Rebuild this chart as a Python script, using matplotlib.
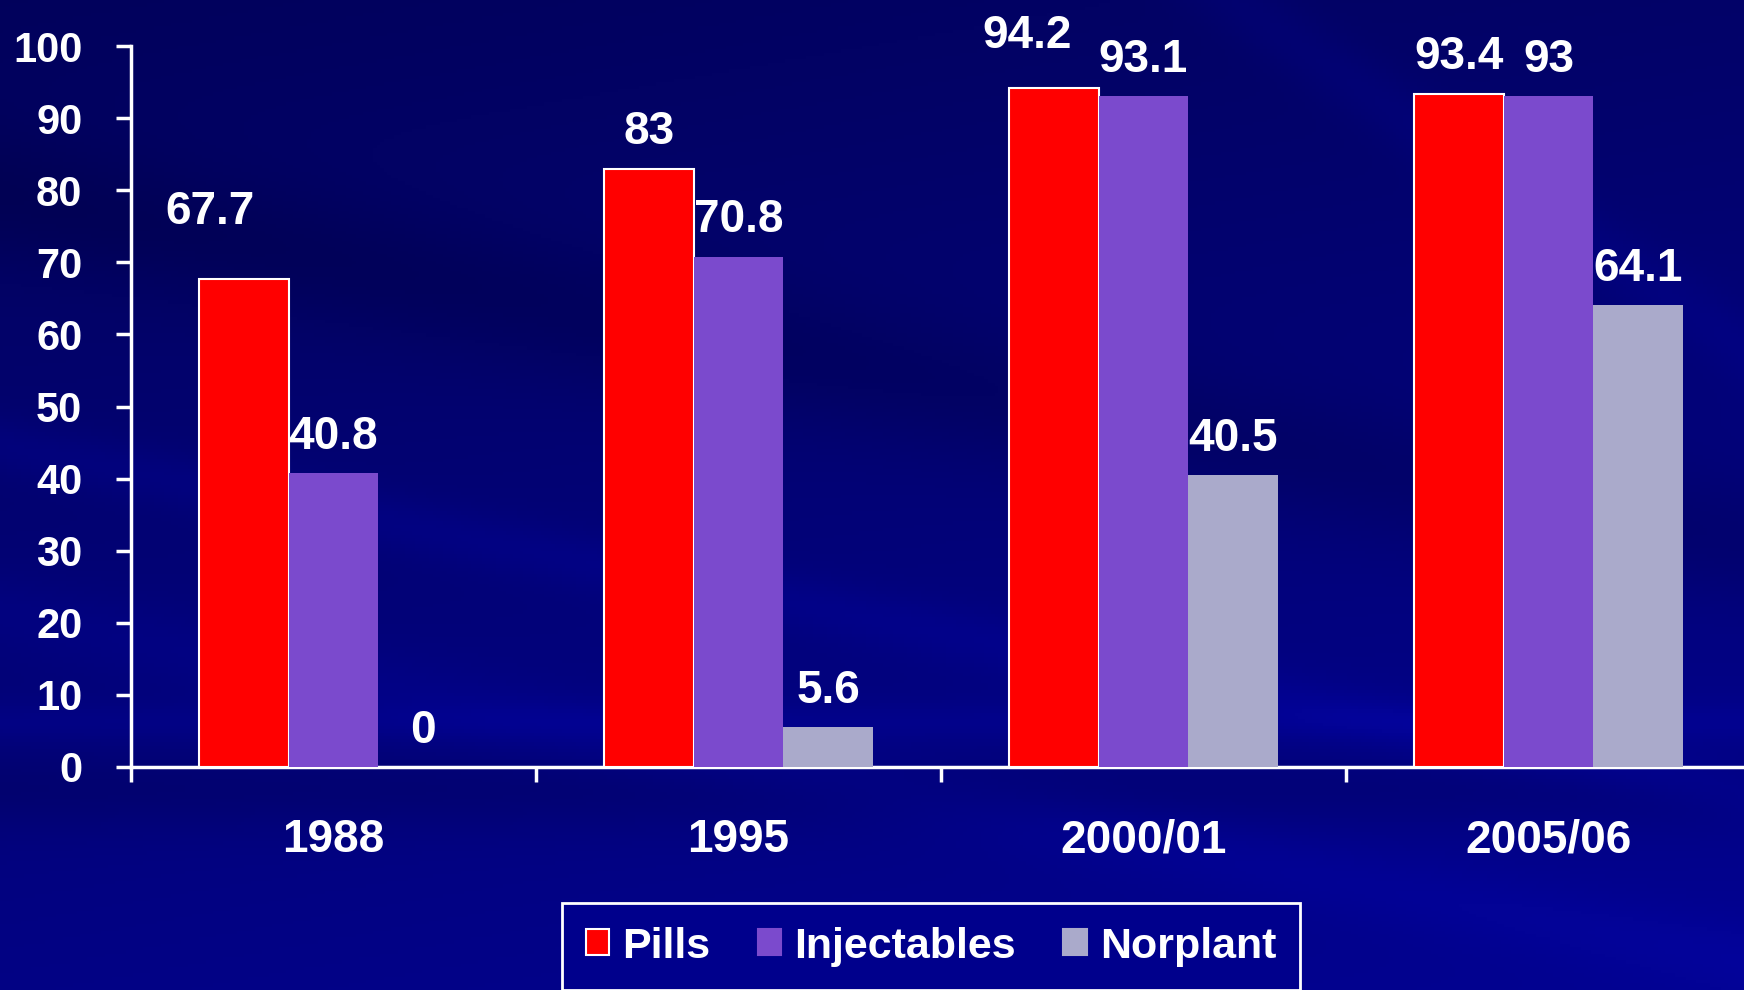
import numpy as np
import matplotlib
matplotlib.use("Agg")
import matplotlib.pyplot as plt
from matplotlib.patches import Patch

# ---- data ----
categories = ["1988", "1995", "2000/01", "2005/06"]
series_names = ["Pills", "Injectables", "Norplant"]
pills = [67.7, 83, 94.2, 93.4]
injectables = [40.8, 70.8, 93.1, 93]
norplant = [0, 5.6, 40.5, 64.1]
y_ticks = [0, 10, 20, 30, 40, 50, 60, 70, 80, 90, 100]

colors = ["#FF0000", "#7B4ACD", "#AAAACB"]
edges = ["white", "none", "none"]
# label offset tweaks (points) for crowded labels: (series index, category index) -> (dx, dy)
label_tweaks = {(0, 0): (-24, 48), (0, 2): (-19, 37)}

plt.rcParams['font.family'] = ['Liberation Sans', 'DejaVu Sans']
plt.rcParams['font.weight'] = 'bold'

W, H = 1744, 990
fig = plt.figure(figsize=(W / 100, H / 100), dpi=100)

# background gradient with soft diagonal streaks (descending to the right)
bg = fig.add_axes([0, 0, 1, 1])
bg.set_axis_off()
yy, xx = np.mgrid[0:1:300j, 0:1:500j]   # yy = 0 at top
base = 0.36 + 0.16 * yy + 0.05 * xx
d = yy - 0.35 * xx
streak = (0.05 * np.exp(-((d - 0.45) / 0.03) ** 2)
          + 0.04 * np.exp(-((d - 0.62) / 0.04) ** 2)
          - 0.06 * np.exp(-((d - 0.20) / 0.07) ** 2)
          - 0.05 * np.exp(-((yy - 0.80) / 0.04) ** 2)
          + 0.04 * np.exp(-((yy - 0.73) / 0.02) ** 2))
d2 = yy - 1.2 * (xx - 0.75)
streak += 0.04 * np.exp(-((d2 - 0.05) / 0.04) ** 2) * (xx > 0.6)
v = np.clip(base + streak, 0, 1)
img = np.zeros(v.shape + (3,))
img[..., 0] = v * 0.02
img[..., 1] = v * 0.02
img[..., 2] = v
bg.imshow(img, extent=[0, 1, 0, 1], aspect='auto', origin='upper', zorder=0)
bg.set_xlim(0, 1)
bg.set_ylim(0, 1)

left = 131 / W
bottom = (H - 767) / H
top = (H - 46) / H
width = (1751 - 131) / W
ax = fig.add_axes([left, bottom, width, top - bottom])
ax.patch.set_alpha(0)

x = np.arange(len(categories))
bw = 0.222
all_series = [pills, injectables, norplant]
for si, vals in enumerate(all_series):
    pos = x + (si - 1) * bw
    ax.bar(pos, vals, width=bw, color=colors[si], edgecolor=edges[si],
           linewidth=1.5 if edges[si] != "none" else 0, zorder=3)
    for ci, (p, val) in enumerate(zip(pos, vals)):
        dx, dy = label_tweaks.get((si, ci), (0, 26))
        ax.annotate(f"{val:g}", xy=(p, val), xytext=(dx, dy), textcoords='offset points',
                    ha='center', va='center', color='white', fontsize=33, fontweight='bold',
                    zorder=5, annotation_clip=False)

ax.set_xlim(-0.5, 3.5)
ax.set_ylim(0, 100)
for s in ['top', 'right']:
    ax.spines[s].set_visible(False)
for s in ['left', 'bottom']:
    ax.spines[s].set_color('white')
    ax.spines[s].set_linewidth(2.5)

ax.set_yticks(y_ticks)
ax.set_yticklabels([str(t) for t in y_ticks])
ax.tick_params(axis='y', colors='white', direction='out', length=11, width=2.5, pad=24,
               labelsize=30)
ax.set_xticks(np.arange(len(categories) + 1) - 0.5)
ax.set_xticklabels([])
ax.tick_params(axis='x', which='major', colors='white', direction='out', length=11, width=2.5)
ax.set_xticks(x, minor=True)
ax.set_xticklabels(categories, minor=True)
ax.tick_params(axis='x', which='minor', length=0, pad=37, labelsize=33, labelcolor='white')
for lab in ax.get_yticklabels() + ax.get_xticklabels(minor=True):
    lab.set_fontweight('bold')

handles = [Patch(facecolor=colors[i], edgecolor=('white' if edges[i] != 'none' else colors[i]),
                 linewidth=1.5) for i in range(3)]
leg = fig.legend(handles, series_names, loc='upper left',
                 bbox_to_anchor=(562 / W, (H - 903) / H), ncol=3,
                 prop={'family': 'Liberation Sans', 'weight': 'bold', 'size': 31},
                 handlelength=0.55, handleheight=0.55, handletextpad=0.3,
                 columnspacing=1.1, frameon=True, fancybox=False,
                 borderpad=0.55, borderaxespad=0)
for t in leg.get_texts():
    t.set_color('white')
fr = leg.get_frame()
fr.set_facecolor('#00008C')
fr.set_edgecolor('white')
fr.set_linewidth(2)
fr.set_alpha(1)

fig.savefig("out.png", dpi=100)
